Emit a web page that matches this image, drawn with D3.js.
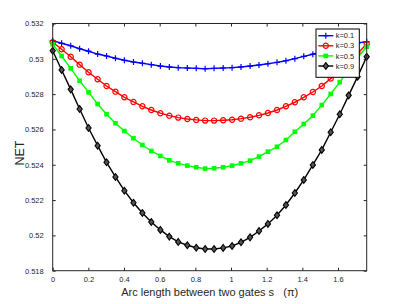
<!DOCTYPE html>
<html>
<head>
<meta charset="utf-8">
<script src="https://cdn.jsdelivr.net/npm/d3@7"></script>
<style>
  body { margin: 0; background: #fff; }
  text { font-family: "Liberation Sans", Arial, sans-serif; fill: #262626; }
</style>
</head>
<body>
<div id="chart"></div>
<script>
// arc length s (in units of pi)
const arcLength = [0, 0.050, 0.101, 0.151, 0.201, 0.252, 0.302, 0.352, 0.402, 0.453,
  0.503, 0.553, 0.604, 0.654, 0.704, 0.755, 0.805, 0.855, 0.905, 0.956,
  1.006, 1.056, 1.107, 1.157, 1.207, 1.258, 1.308, 1.358, 1.408, 1.459,
  1.509, 1.559, 1.610, 1.660, 1.710, 1.761];

const netK01 = [0.53103, 0.53088, 0.53074, 0.53057, 0.53043, 0.53027, 0.53016, 0.53003, 0.52992, 0.52982,
  0.52975, 0.52967, 0.52959, 0.52954, 0.52950, 0.52948, 0.52946, 0.52944, 0.52946, 0.52948,
  0.52950, 0.52954, 0.52959, 0.52965, 0.52972, 0.52980, 0.52989, 0.53001, 0.53014, 0.53026,
  0.53039, 0.53053, 0.53067, 0.53078, 0.53090, 0.53097];

const netK03 = [0.53094, 0.53054, 0.53012, 0.52967, 0.52924, 0.52884, 0.52846, 0.52814, 0.52782, 0.52756,
  0.52731, 0.52710, 0.52692, 0.52678, 0.52667, 0.52659, 0.52654, 0.52650, 0.52650, 0.52652,
  0.52655, 0.52661, 0.52669, 0.52680, 0.52693, 0.52710, 0.52731, 0.52754, 0.52782, 0.52812,
  0.52846, 0.52888, 0.52932, 0.52979, 0.53030, 0.53084];

const netK05 = [0.53082, 0.53016, 0.52946, 0.52876, 0.52810, 0.52744, 0.52686, 0.52635, 0.52591, 0.52550,
  0.52512, 0.52478, 0.52450, 0.52425, 0.52408, 0.52395, 0.52386, 0.52378, 0.52380, 0.52386,
  0.52395, 0.52408, 0.52423, 0.52446, 0.52474, 0.52502, 0.52540, 0.52587, 0.52631, 0.52678,
  0.52738, 0.52801, 0.52868, 0.52938, 0.53006, 0.53068];

const netK09 = [0.53046, 0.52937, 0.52827, 0.52716, 0.52608, 0.52508, 0.52414, 0.52331, 0.52253, 0.52185,
  0.52127, 0.52076, 0.52031, 0.51993, 0.51963, 0.51944, 0.51930, 0.51923, 0.51923, 0.51929,
  0.51940, 0.51961, 0.51989, 0.52025, 0.52065, 0.52114, 0.52172, 0.52240, 0.52314, 0.52399,
  0.52484, 0.52584, 0.52686, 0.52793, 0.52899, 0.53012];

const seriesNames = ["k=0.1", "k=0.3", "k=0.5", "k=0.9"];
const xTicks = [0, 0.2, 0.4, 0.6, 0.8, 1, 1.2, 1.4, 1.6];
const yTicks = [0.518, 0.52, 0.522, 0.524, 0.526, 0.528, 0.53, 0.532];

const series = [
  {name: seriesNames[0], values: netK01, color: "#0000ff", marker: "plus"},
  {name: seriesNames[1], values: netK03, color: "#ff0000", marker: "circle"},
  {name: seriesNames[2], values: netK05, color: "#00ff00", marker: "square"},
  {name: seriesNames[3], values: netK09, color: "#000000", marker: "diamond"}
];

const margin = {top: 23.5, right: 38.3, bottom: 33.3, left: 52.7};
const width = 405 - margin.left - margin.right;
const height = 304 - margin.top - margin.bottom;

const svg = d3.select("#chart").append("svg")
  .attr("width", 405)
  .attr("height", 304);

const chart = svg.append("g")
  .attr("transform", `translate(${margin.left},${margin.top})`);

// scales
const x = d3.scaleLinear()
  .domain([0, arcLength[arcLength.length - 1]])
  .range([0, width]);

const y = d3.scaleLinear()
  .domain([0.518, 0.532])
  .range([height, 0]);

// axes, ticks point inward like matlab
const fmt = d => String(+d.toFixed(3));

chart.append("g")
  .attr("class", "axis")
  .attr("transform", `translate(0,${height})`)
  .call(d3.axisBottom(x).tickValues(xTicks).tickFormat(fmt).tickSizeInner(-3).tickSizeOuter(0).tickPadding(6));

chart.append("g")
  .attr("class", "axis")
  .call(d3.axisTop(x).tickValues(xTicks).tickFormat("").tickSizeInner(-3).tickSizeOuter(0));

chart.append("g")
  .attr("class", "axis")
  .call(d3.axisLeft(y).tickValues(yTicks).tickFormat(fmt).tickSizeInner(-3).tickSizeOuter(0).tickPadding(9));

chart.append("g")
  .attr("class", "axis")
  .attr("transform", `translate(${width},0)`)
  .call(d3.axisRight(y).tickValues(yTicks).tickFormat("").tickSizeInner(-3).tickSizeOuter(0));

chart.selectAll(".axis .domain").remove();
chart.selectAll(".axis line").attr("stroke", "#262626");
chart.selectAll(".axis text")
  .attr("font-size", "7.5px")
  .attr("font-family", "Liberation Sans, Arial, sans-serif")
  .attr("fill", "#262626");

// lines and markers
const line = d3.line()
  .x((d, i) => x(arcLength[i]))
  .y(d => y(d));

function drawMarker(g, type, color) {
  if (type === "plus") {
    g.append("path").attr("d", "M-3,0H3M0,-3V3")
      .attr("stroke", color).attr("stroke-width", 1.2).attr("fill", "none");
  } else if (type === "circle") {
    g.append("circle").attr("r", 2.6)
      .attr("stroke", color).attr("stroke-width", 1.2).attr("fill", "none");
  } else if (type === "square") {
    g.append("rect").attr("x", -2.3).attr("y", -2.3).attr("width", 4.6).attr("height", 4.6)
      .attr("fill", color);
  } else {
    g.append("path").attr("d", "M0,-3.4L2.6,0L0,3.4L-2.6,0Z")
      .attr("stroke", color).attr("stroke-width", 1.1).attr("fill", "#555");
  }
}

series.forEach(s => {
  chart.append("path")
    .datum(s.values)
    .attr("fill", "none")
    .attr("stroke", s.color)
    .attr("stroke-width", 1.4)
    .attr("d", line);

  s.values.forEach((v, i) => {
    const g = chart.append("g")
      .attr("transform", `translate(${x(arcLength[i])},${y(v)})`);
    drawMarker(g, s.marker, s.color);
  });
});

// box
chart.append("rect")
  .attr("width", width)
  .attr("height", height)
  .attr("fill", "none")
  .attr("stroke", "#262626")
  .attr("stroke-width", 1);

// legend
const legend = svg.append("g")
  .attr("transform", "translate(316,29)");

legend.append("rect")
  .attr("width", 43.3)
  .attr("height", 48.3)
  .attr("fill", "#fff")
  .attr("stroke", "#000")
  .attr("stroke-width", 1);

series.forEach((s, i) => {
  const row = legend.append("g")
    .attr("transform", `translate(0,${6.7 + i * 10.1})`);
  row.append("line")
    .attr("x1", 2.3).attr("x2", 17.3)
    .attr("stroke", s.color).attr("stroke-width", 1.4);
  const m = row.append("g").attr("transform", "translate(9.8,0)");
  drawMarker(m, s.marker, s.color);
  row.append("text")
    .attr("x", 19.7)
    .attr("dy", "0.35em")
    .attr("font-size", "7.5px")
    .text(s.name);
});

// axis labels
svg.append("text")
  .attr("x", margin.left + width / 2)
  .attr("y", 296)
  .attr("text-anchor", "middle")
  .attr("font-size", "11px")
  .style("white-space", "pre")
  .text("Arc length between two gates s   (π)");

svg.append("text")
  .attr("transform", "translate(24,153) rotate(-90)")
  .attr("text-anchor", "middle")
  .attr("font-size", "12.5px")
  .text("NET");
</script>
</body>
</html>
